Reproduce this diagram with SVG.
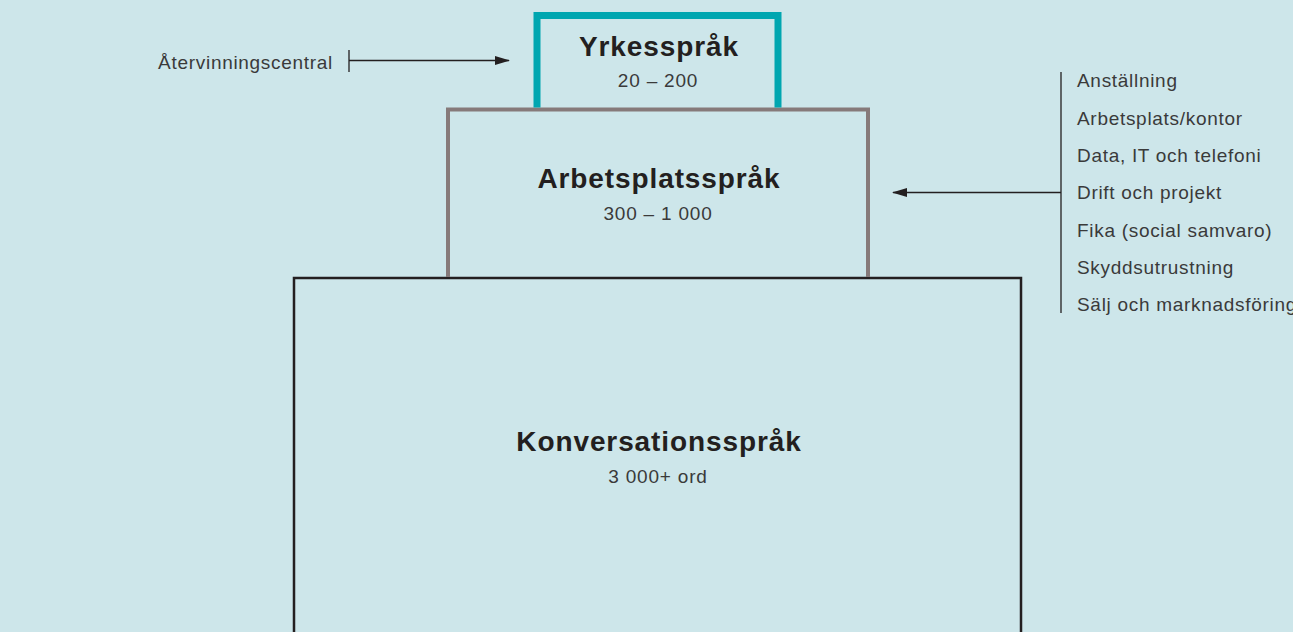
<svg xmlns="http://www.w3.org/2000/svg" width="1293" height="632" viewBox="0 0 1293 632">
<style>
.t{font-family:"Liberation Sans",Arial,sans-serif;font-weight:bold;font-size:28px;letter-spacing:0.9px;fill:#231f20;text-anchor:middle}
.s{font-family:"Liberation Sans",Arial,sans-serif;font-size:19px;letter-spacing:0.8px;fill:#3a3a3a;text-anchor:middle}
.l{font-family:"Liberation Sans",Arial,sans-serif;font-size:19px;letter-spacing:0.7px;fill:#3a3a3a}
.c{stroke:#231f20;stroke-width:1.3;fill:none}
</style>
<defs>
<marker id="ah" markerWidth="15" markerHeight="10" refX="14" refY="5" orient="auto" markerUnits="userSpaceOnUse">
<path d="M0,0.5 L15,5 L0,9.5 Z" fill="#231f20"/>
</marker>
</defs>
<rect width="1293" height="632" fill="#cde6ea"/>
<g id="konversation">
<rect x="294" y="278" width="727" height="370" fill="none" stroke="#231f20" stroke-width="2.5"/>
<text class="t" x="659" y="451">Konversationsspråk</text>
<text class="s" x="658" y="483">3 000+ ord</text>
</g>
<g id="arbetsplats">
<path d="M448,277 V109.5 H868 V277" fill="none" stroke="#867a7a" stroke-width="4"/>
<text class="t" x="659" y="188">Arbetsplatsspråk</text>
<text class="s" x="658" y="220">300 – 1 000</text>
</g>
<g id="yrke">
<path d="M537,107.5 V15.5 H778 V107.5" fill="none" stroke="#00a6b0" stroke-width="7"/>
<text class="t" x="659" y="56">Yrkesspråk</text>
<text class="s" x="658" y="87">20 – 200</text>
</g>
<g id="atervinning">
<text class="l" x="333" y="69" text-anchor="end">Återvinningscentral</text>
</g>
<g id="lista">
<text class="l" x="1077" y="87">Anställning</text>
<text class="l" x="1077" y="125">Arbetsplats/kontor</text>
<text class="l" x="1077" y="162">Data, IT och telefoni</text>
<text class="l" x="1077" y="199">Drift och projekt</text>
<text class="l" x="1077" y="237">Fika (social samvaro)</text>
<text class="l" x="1077" y="274">Skyddsutrustning</text>
<text class="l" x="1077" y="311">Sälj och marknadsföring</text>
</g>
<g id="connectors">
<line class="c" x1="349" y1="50" x2="349" y2="72"/>
<line class="c" x1="349" y1="60.5" x2="509" y2="60.5" marker-end="url(#ah)"/>
<line class="c" x1="1061" y1="72" x2="1061" y2="313"/>
<line class="c" x1="1061" y1="192.5" x2="893" y2="192.5" marker-end="url(#ah)"/>
</g>
</svg>
